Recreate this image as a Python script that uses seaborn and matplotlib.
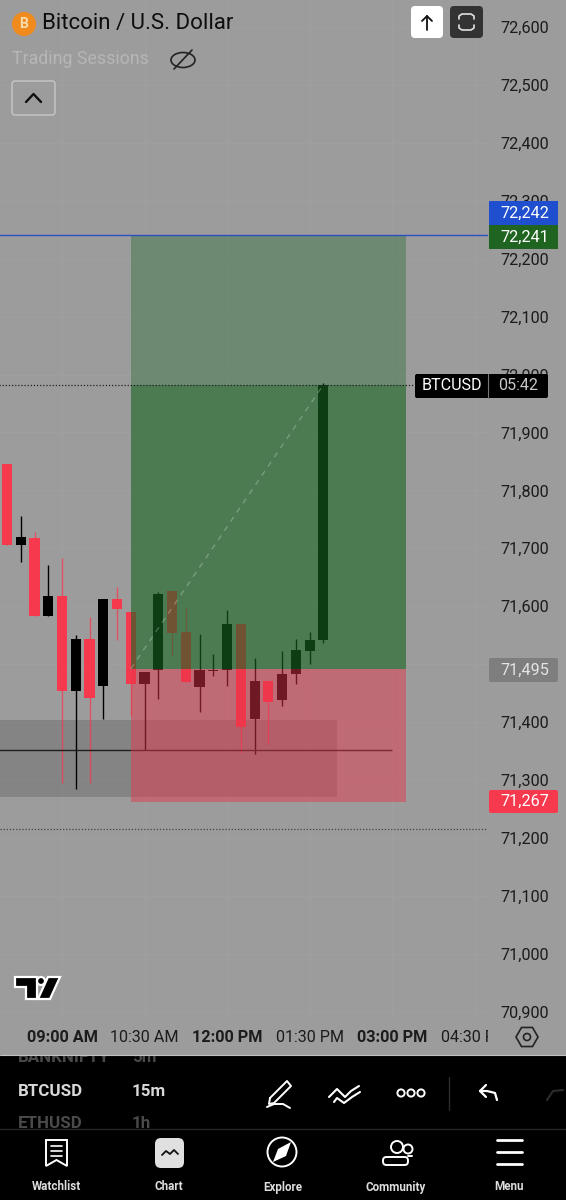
import matplotlib
matplotlib.use('Agg')
import matplotlib.pyplot as plt
from matplotlib.patches import Circle, Ellipse, FancyBboxPatch, Polygon, Rectangle, RegularPolygon
from matplotlib.transforms import Bbox, TransformedBbox
import pandas as pd
import seaborn as sns

# candles, 15m, newest last
opens = [71845, 71706, 71717, 71583, 71617, 71454, 71543, 71463, 71613, 71590, 71465, 71490,
         71627, 71555, 71461, 71489, 71490, 71569, 71405, 71471, 71438, 71483, 71523, 71542]
closes = [71706, 71719, 71583, 71617, 71454, 71543, 71442, 71613, 71595, 71465, 71487, 71621,
          71553, 71470, 71490, 71490, 71569, 71392, 71471, 71435, 71483, 71524, 71542, 71982]
highs = [71845, 71756, 71729, 71671, 71683, 71551, 71582, 71613, 71634, 71590, 71487, 71624,
         71627, 71598, 71552, 71518, 71594, 71569, 71510, 71471, 71522, 71543, 71556, 71985]
lows = [71706, 71677, 71583, 71583, 71295, 71285, 71295, 71405, 71542, 71410, 71352, 71440,
        71514, 71470, 71417, 71480, 71463, 71347, 71345, 71362, 71428, 71466, 71500, 71537]

price_ticks = list(range(70900, 72700, 100))
hidden_price = 71500  # sits fully behind the 71,495 tag
time_ticks = [4, 10, 16, 22, 28, 34]
time_labels = ['09:00 AM', '10:30 AM', '12:00 PM', '01:30 PM', '03:00 PM', '04:30 PM']

# long position tool
entry = 71492
stop = 71262
target = 72241
last_price = 71982
low_line = 71216
box_low = 71271
box_high = 71404
support = 71352

BG = '#9c9c9c'
UP = '#000000'
DOWN = '#f7394e'
FONT = 'Roboto'

sns.set_theme(style='darkgrid', rc={'axes.facecolor': BG, 'figure.facecolor': BG, 'grid.color': '#a0a0a0',
                                    'grid.linewidth': 0.7, 'axes.edgecolor': BG})
plt.rcParams['font.family'] = [FONT, 'DejaVu Sans']

fig = plt.figure(figsize=(5.66, 12), dpi=100)
W, H = 566, 1200

ax = fig.add_axes([0, 1 - 1018 / H, 488 / W, 1018 / H])
ax.set_zorder(1)

df = pd.DataFrame({'i': range(len(opens)), 'open': opens, 'close': closes, 'high': highs, 'low': lows})
df['bottom'] = df[['open', 'close']].min(axis=1)
df['height'] = (df['close'] - df['open']).abs().clip(lower=1)
rising = df[df['close'] >= df['open']]
falling = df[df['close'] < df['open']]

ax.vlines(rising['i'], rising['low'], rising['high'], color=UP, lw=1, zorder=2)
ax.vlines(falling['i'], falling['low'], falling['high'], color=DOWN, lw=1, alpha=0.75, zorder=2)
sns.barplot(data=rising, x='i', y='height', bottom=rising['bottom'], native_scale=True, color=UP,
            saturation=1, width=0.73, errorbar=None, ax=ax, zorder=2.2, linewidth=0, edgecolor='none')
sns.barplot(data=falling, x='i', y='height', bottom=falling['bottom'], native_scale=True, color=DOWN,
            saturation=1, width=0.73, errorbar=None, ax=ax, zorder=2.2, linewidth=0, edgecolor='none')

# shaded areas, candles show through them
ax.fill_between([-1, 24], box_low, box_high, color='black', alpha=0.15, lw=0, zorder=1)
ax.hlines(support, -1, 28, color='#1e1e1e', lw=1, zorder=2)
ax.fill_between([9, 29], last_price, target, color='#176621', alpha=0.35, lw=0, zorder=3)
ax.fill_between([9, 29], entry, last_price, color='#176621', alpha=0.6, lw=0, zorder=3)
ax.fill_between([9, 29], stop, entry, color='#e7364b', alpha=0.48, lw=0, zorder=3)
ax.plot([9, 23], [entry, last_price], color='white', alpha=0.25, lw=1, ls=(0, (4, 4)), zorder=4)

ax.axhline(target, color='#2a4fc0', lw=1, zorder=4)
ax.hlines(last_price, -1, 29.7, color='#222222', lw=0.9, ls=(0, (1, 1.5)), zorder=4)
ax.axhline(low_line, color='#444444', lw=0.9, ls=(0, (1, 1.5)), zorder=4)

ax.set_xlim(-0.51, 34.98)
ax.set_ylim(70889, 72646.7)
ax.set_xticks(time_ticks)
ax.set_xticklabels([])
ax.set_yticks(price_ticks)
ax.set_yticklabels(['' if p == hidden_price else f'{p:,}' for p in price_ticks])
ax.yaxis.tick_right()
ax.tick_params(axis='y', length=0, pad=9.2, labelsize=11.7, labelcolor='#1c1c1c')
ax.tick_params(axis='x', length=0)
ax.set_xlabel('')
ax.set_ylabel('')
for s in ax.spines.values():
    s.set_visible(False)

# time scale strip
ax_time = fig.add_axes([0, 1 - 1055 / H, 488 / W, 37 / H])
ax_time.set_zorder(2)
ax_time.set_facecolor(BG)
ax_time.grid(False)
ax_time.set_xlim(ax.get_xlim())
ax_time.set_yticks([])
ax_time.set_xticks(time_ticks)
ax_time.set_xticklabels(time_labels)
ax_time.tick_params(axis='x', length=0, pad=-17.8, labelsize=11.6, labelcolor='#1c1c1c')
for n, lab in enumerate(ax_time.get_xticklabels()):
    lab.set_fontweight('bold' if n % 2 == 0 else 'normal')
    if n % 2 == 0:
        lab.set_fontsize(11.7)
    lab.set_clip_box(ax_time.bbox)
    lab.set_clip_on(True)
for s in ax_time.spines.values():
    s.set_visible(False)

# app chrome, drawn in screen pixels
ov = fig.add_axes([0, 0, 1, 1])
ov.set_zorder(10)
ov.set_xlim(0, W)
ov.set_ylim(H, 0)
ov.axis('off')
ov.patch.set_alpha(0)


def box(x0, y0, x1, y1, color, r=3, **kw):
    ov.add_patch(FancyBboxPatch((x0 + r, y0 + r), x1 - x0 - 2 * r, y1 - y0 - 2 * r,
                                boxstyle=f'round,pad={r},rounding_size={r}', fc=color, ec=kw.pop('ec', 'none'),
                                **kw))


def txt(x, y, s, size, color='#111111', ha='center', weight='normal', **kw):
    return ov.text(x, y, s, fontsize=size, color=color, ha=ha, va='center', fontweight=weight, **kw)


def line(xs, ys, color='white', lw=1.6):
    ov.plot(xs, ys, color=color, lw=lw, solid_capstyle='round', solid_joinstyle='round')


# price tags
ov.add_patch(Rectangle((489, 201), 69, 24, fc='#1f4fcf', ec='none'))
txt(525, 213, '72,242', 11.7, 'white')
ov.add_patch(Rectangle((489, 225), 69, 24, fc='#1f6420', ec='none'))
txt(525, 237, '72,241', 11.7, 'white')
box(415, 374, 548, 398, 'black', r=2)
txt(452, 386, 'BTCUSD', 11.6, 'white')
ov.plot([488, 488], [374, 398], color='#777777', lw=0.8)
txt(518, 386, '05:42', 11.6, '#c8c8c8')
box(489, 658, 558, 682, '#7e7e7e', r=2)
txt(525, 670, '71,495', 11.7, '#e4e4e4')
box(489, 790, 558, 813, '#f7394e', r=2)
txt(525, 801, '71,267', 11.7, 'white')

# header
ov.add_patch(Circle((24, 24), 12, fc='#f08c1e', ec='none'))
txt(24, 24, 'B', 10, '#f8dcae', weight='bold')
txt(42, 24, 'Bitcoin / U.S. Dollar', 16, '#0e0e0e', ha='left')
txt(12, 59, 'Trading Sessions', 12.8, '#b6b6b6', ha='left')
ov.add_patch(Ellipse((183, 60), 24, 15, fc='none', ec='#222222', lw=1.2))
line([174, 192], [69, 50], '#222222', 1.2)
box(12, 81, 55, 115, 'none', r=3, ec='#c4c4c4', lw=1.1)
line([26, 33.5, 41], [102, 94, 102], '#111111', 1.7)
box(411, 6, 443, 38, 'white', r=4)
line([427, 427], [30, 16], '#111111', 1.3)
line([422, 427, 432], [21, 16, 21], '#111111', 1.3)
box(450, 6, 483, 38, '#333333', r=4)
line([459, 459, 462, 471, 474, 474], [19, 16, 14, 14, 16, 19], '#e0e0e0', 1.2)
line([459, 459, 462, 471, 474, 474], [25, 28, 30, 30, 28, 25], '#e0e0e0', 1.2)

# TradingView mark
logo = dict(fc='black', ec='white', lw=1.6, joinstyle='miter')
ov.add_patch(Polygon([(15, 977), (37, 977), (37, 999), (26, 999), (26, 987), (15, 987)], **logo))
ov.add_patch(Circle((41, 981), 4, **logo))
ov.add_patch(Polygon([(48, 977), (60, 977), (50, 999), (38, 999)], **logo))

# settings hexagon next to the time scale
ov.add_patch(RegularPolygon((527, 1037), 6, radius=11, orientation=0.5236, fc='none', ec='#222222', lw=1.2))
ov.add_patch(Circle((527, 1037), 3.5, fc='none', ec='#222222', lw=1.2))

# bottom panel
ov.add_patch(Rectangle((0, 1055), W, 145, fc='black', ec='none', zorder=0.5))
ov.plot([0, W], [1055, 1055], color='#c2c2c2', lw=0.8)
for label, tf, y, col in [('BANKNIFTY', '5m', 1058, '#4a4a4a'), ('BTCUSD', '15m', 1092, '#d8d8d8'),
                          ('ETHUSD', '1h', 1124, '#4a4a4a')]:
    for x, s in [(18, label), (132, tf)]:
        t = txt(x, y, s, 12.2, col, ha='left', weight='bold')
        t.set_clip_box(TransformedBbox(Bbox([[0, 71 / H], [1, 144 / H]]), ov.transAxes))
        t.set_clip_on(True)

# toolbar icons
line([270, 287, 291, 274, 269, 270], [1098, 1081, 1086, 1103, 1104, 1098], 'white', 1.4)
line([267, 274, 283, 290], [1107, 1104, 1104, 1108], 'white', 1.4)
line([329, 337, 345, 351, 359], [1097, 1089, 1097, 1091, 1086], 'white', 1.5)
line([334, 337, 344, 352, 360], [1102, 1098, 1103, 1097, 1092], 'white', 1.5)
for x in (401, 411, 421):
    ov.add_patch(Circle((x, 1093), 3.6, fc='none', ec='white', lw=1.4))
ov.plot([449, 449], [1077, 1110], color='#2c2c2c', lw=1)
line([480, 487, 495, 497], [1091, 1091, 1093, 1100], 'white', 1.6)
line([486, 480, 486], [1085, 1091, 1097], 'white', 1.6)
line([547, 553, 563], [1100, 1091, 1090], '#2a2a2a', 1.6)
ov.plot([0, W], [1129, 1129], color='#262626', lw=1)

# tab bar
tabs = ['Watchlist', 'Chart', 'Explore', 'Community', 'Menu']
tab_x = [56, 169, 283, 396, 509]
for x, s in zip(tab_x, tabs):
    txt(x, 1187, s, 8.4, '#dddddd', weight='bold')
ov.add_patch(Polygon([(46, 1140), (67, 1140), (67, 1166), (56.5, 1160), (46, 1166)], fc='none', ec='white', lw=1.4))
for y in (1146, 1151, 1156):
    ov.plot([51, 62], [y, y], color='white', lw=1.2)
box(155, 1138, 184, 1168, '#e0e0e0', r=6)
line([162, 166, 170, 174, 178], [1155, 1151, 1154, 1150, 1154], '#111111', 1.3)
ov.add_patch(Circle((282, 1152), 14.5, fc='none', ec='white', lw=1.4))
ov.add_patch(Polygon([(291, 1142), (286, 1156), (273, 1162), (278, 1149)], fc='white', ec='none'))
ov.add_patch(Circle((397, 1147), 6, fc='none', ec='white', lw=1.4))
ov.add_patch(Circle((408, 1149), 4.5, fc='none', ec='white', lw=1.4))
box(383, 1157, 408, 1165, 'none', r=3.5, ec='white', lw=1.4)
line([408, 412], [1156, 1156], 'white', 1.4)
for y in (1140, 1152, 1164):
    ov.plot([497, 522], [y, y], color='white', lw=2)

fig.savefig('out.png', dpi=100, facecolor=BG)
